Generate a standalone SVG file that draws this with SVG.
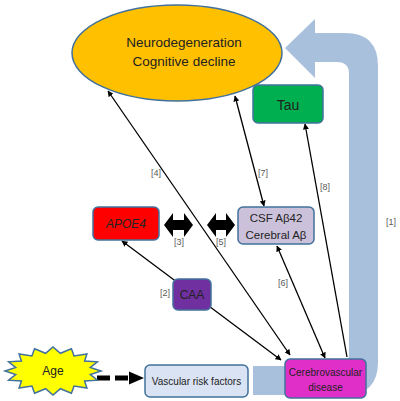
<svg xmlns="http://www.w3.org/2000/svg" width="400" height="401" viewBox="0 0 400 401">
<style>
.box{stroke:#41719C;stroke-width:1.5}
.t{font-family:"Liberation Sans",Arial,sans-serif;fill:#222;text-anchor:middle}
.lbl{font-family:"Liberation Sans",Arial,sans-serif;fill:#595959;font-size:9px;text-anchor:middle}
.conn{stroke:#000;stroke-width:1.3;fill:none}
</style>
<defs>
<marker id="ah" viewBox="0 0 10 10" refX="9" refY="5" markerWidth="6" markerHeight="6" orient="auto-start-reverse" markerUnits="userSpaceOnUse">
<path d="M0,0 L10,5 L0,10 Z" fill="#000"/>
</marker>
</defs>
<rect width="400" height="401" fill="#fff"/>
<g id="big-arrow">
<path d="M253,395 L345,395 Q378,395 378,362 L378,66 Q378,33 345,33 L315,33 L315,19 L285,48 L315,78 L315,62 L337,62 Q349,62 349,74 L349,354 Q349,366 337,366 L253,366 Z" fill="#A9C0DD"/>
</g>
<g id="connectors">
<line class="conn" x1="108" y1="91" x2="290" y2="355" marker-start="url(#ah)" marker-end="url(#ah)"/>
<line class="conn" x1="235" y1="96" x2="264" y2="206" marker-start="url(#ah)" marker-end="url(#ah)"/>
<line class="conn" x1="277" y1="246" x2="325" y2="358" marker-start="url(#ah)" marker-end="url(#ah)"/>
<line class="conn" x1="347" y1="357" x2="305" y2="124" marker-end="url(#ah)"/>
<line class="conn" x1="122" y1="241" x2="281" y2="360" marker-start="url(#ah)" marker-end="url(#ah)"/>
<path d="M164,225 L173,213 L173,220 L184,220 L184,213 L193,225 L184,237 L184,230 L173,230 L173,237 Z" fill="#000"/>
<path d="M207,225 L216,213 L216,220 L226,220 L226,213 L235,225 L226,237 L226,230 L216,230 L216,237 Z" fill="#000"/>
<line x1="97" y1="378" x2="130" y2="378" stroke="#000" stroke-width="5" stroke-dasharray="13 5"/>
<path d="M129,371.5 L144,378 L129,384.5 Z" fill="#000"/>
<text class="lbl" x="391" y="225">[1]</text>
<text class="lbl" x="165" y="296">[2]</text>
<text class="lbl" x="179" y="245">[3]</text>
<text class="lbl" x="156" y="176">[4]</text>
<text class="lbl" x="221" y="245">[5]</text>
<text class="lbl" x="283" y="286">[6]</text>
<text class="lbl" x="263" y="176">[7]</text>
<text class="lbl" x="325" y="190">[8]</text>
</g>
<g id="neurodegeneration">
<ellipse class="box" cx="177" cy="53" rx="105" ry="48" fill="#FFC000"/>
<text class="t" x="184" y="47" font-size="13.5">Neurodegeneration</text>
<text class="t" x="184" y="66" font-size="13.5">Cognitive decline</text>
</g>
<g id="tau">
<rect class="box" x="253" y="85" width="70" height="38" rx="5" fill="#00B050"/>
<text class="t" x="288" y="110" font-size="14">Tau</text>
</g>
<g id="csf">
<rect class="box" x="238" y="207" width="76" height="37" rx="5" fill="#CCC1DA"/>
<text class="t" x="276" y="222" font-size="11.5">CSF Aβ42</text>
<text class="t" x="276" y="239" font-size="11.5">Cerebral Aβ</text>
</g>
<g id="apoe4">
<rect class="box" x="93" y="207" width="66" height="33" rx="5" fill="#FF0000"/>
<text class="t" x="126" y="228" font-size="12" font-style="italic">APOE4</text>
</g>
<g id="caa">
<rect class="box" x="173" y="279" width="38" height="31" rx="5" fill="#7030A0"/>
<text class="t" x="192" y="299" font-size="12">CAA</text>
</g>
<g id="cerebrovascular">
<rect class="box" x="285" y="359" width="81" height="39" rx="5" fill="#E02FC8"/>
<text class="t" x="325.5" y="376" font-size="10">Cerebrovascular</text>
<text class="t" x="325.5" y="391" font-size="10">disease</text>
</g>
<g id="vascular">
<rect class="box" x="145" y="365" width="103" height="32" rx="5" fill="#DAE3F3"/>
<text class="t" x="196.5" y="385" font-size="10">Vascular risk factors</text>
</g>
<g id="age">
<polygon class="box" fill="#FFFF00" points="101,371 90.3,374.5 97.4,380.2 84.6,381 86.9,388 74.1,386 71.4,393.2 60.4,388.7 53,395 45.6,388.7 34.6,393.2 31.9,386 19.1,388 21.4,381 8.6,380.2 15.7,374.5 5,371 15.7,367.5 8.6,361.8 21.4,361 19.1,354 31.9,356 34.6,348.8 45.6,353.3 53,347 60.4,353.3 71.4,348.8 74.1,356 86.9,354 84.6,361 97.4,361.8 90.3,367.5"/>
<text class="t" x="53" y="375" font-size="12">Age</text>
</g>
</svg>
